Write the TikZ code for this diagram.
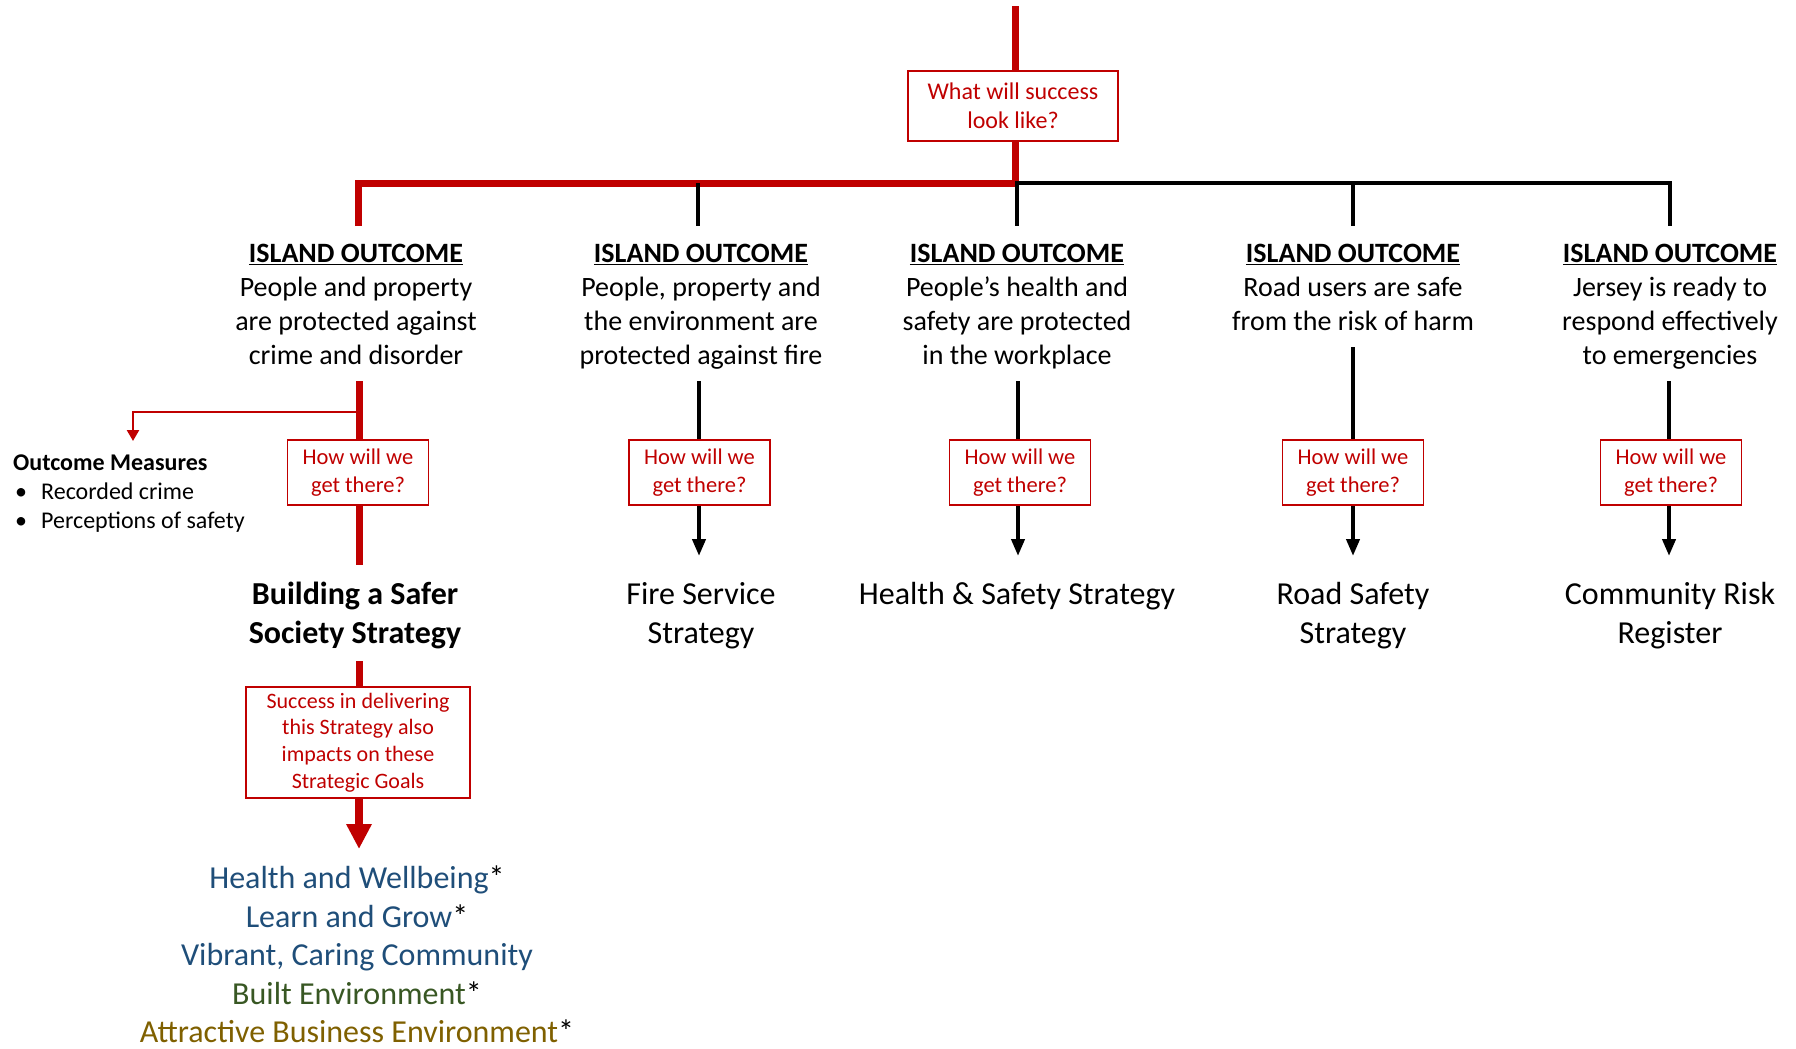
\documentclass[tikz,border=0pt]{standalone}
\usepackage{fontspec}
\setmainfont{Carlito}
\usetikzlibrary{arrows.meta}
\definecolor{dred}{HTML}{C00000}
\definecolor{gblue}{HTML}{1F4E79}
\definecolor{ggreen}{HTML}{385723}
\definecolor{ggold}{HTML}{7F6000}
\begin{document}
\begin{tikzpicture}[x=1pt,y=-1pt,
  redl/.style={draw=dred,line width=7pt},
  blkl/.style={draw=black,line width=4pt},
  qbox/.style={draw=dred,line width=1.6pt,fill=white,text=dred,align=center,inner sep=0pt,
    minimum width=141pt,minimum height=65pt,font=\fontsize{22.5}{28}\selectfont},
  outc/.style={anchor=north,align=center,inner sep=0pt,font=\fontsize{28}{34}\selectfont},
  strat/.style={anchor=north,align=center,inner sep=0pt,font=\fontsize{32}{39}\selectfont},
  blkarrow/.style={blkl,-{Triangle[length=17pt,width=13pt]}},
]
\useasboundingbox (0,0) rectangle (1796,1049);

% junction coordinates
\coordinate (top) at (1015,6);
\coordinate (jC) at (1015,183);
\coordinate (jL) at (358,183);
\coordinate (jR) at (1670,183);
\coordinate (d1) at (358,226);
\coordinate (u2) at (698,183);
\coordinate (d2) at (698,226);
\coordinate (u3) at (1017,183);
\coordinate (d3) at (1017,226);
\coordinate (u4) at (1353,183);
\coordinate (d4) at (1353,226);
\coordinate (d5) at (1670,226);

% upper tree
\draw[redl] (d1) -- (jL) -- (jC) -- (top);
\draw[blkl] (jC) -- (jR) -- (d5);
\draw[blkl] (u2) -- (d2);
\draw[blkl] (u3) -- (d3);
\draw[blkl] (u4) -- (d4);

\node[qbox,minimum width=210pt,minimum height=70pt,font=\fontsize{24}{29}\selectfont] (q0) at (1013,106) {What will success\\look like?};

% outcomes
\node[outc] (o1) at (356,244) {\textbf{\underline{ISLAND OUTCOME}}\\People and property\\are protected against\\crime and disorder};
\node[outc] (o2) at (701,244) {\textbf{\underline{ISLAND OUTCOME}}\\People, property and\\the environment are\\protected against fire};
\node[outc] (o3) at (1017,244) {\textbf{\underline{ISLAND OUTCOME}}\\People’s health and\\safety are protected\\in the workplace};
\node[outc] (o4) at (1353,244) {\textbf{\underline{ISLAND OUTCOME}}\\Road users are safe\\from the risk of harm};
\node[outc] (o5) at (1670,244) {\textbf{\underline{ISLAND OUTCOME}}\\Jersey is ready to\\respond effectively\\to emergencies};

% lower line start coordinates
\coordinate (c1) at (359,381);
\coordinate (c2) at (699,381);
\coordinate (c3) at (1018,381);
\coordinate (c4) at (1353,347);
\coordinate (c5) at (1669,381);
\coordinate (e1) at (359,565);
\coordinate (a2) at (699,556);
\coordinate (a3) at (1018,556);
\coordinate (a4) at (1353,556);
\coordinate (a5) at (1669,556);
\coordinate (br) at (359,412);
\coordinate (bl) at (133,412);
\coordinate (bt) at (133,441);

% column 1 red line and branch
\draw[redl] (c1) -- (e1);
\draw[draw=dred,line width=2.5pt,-{Triangle[length=11pt,width=12pt]}] (br) -- (bl) -- (bt);

% how boxes
\node[qbox] (h1) at (358,472.5) {How will we\\get there?};
\node[qbox] (h2) at (699.5,472.5) {How will we\\get there?};
\node[qbox] (h3) at (1020,472.5) {How will we\\get there?};
\node[qbox] (h4) at (1353,472.5) {How will we\\get there?};
\node[qbox] (h5) at (1671,472.5) {How will we\\get there?};

\draw[blkl] (c2) -- (c2 |- h2.north);
\draw[blkl] (c3) -- (c3 |- h3.north);
\draw[blkl] (c4) -- (c4 |- h4.north);
\draw[blkl] (c5) -- (c5 |- h5.north);
\draw[blkarrow] (c2 |- h2.south) -- (a2);
\draw[blkarrow] (c3 |- h3.south) -- (a3);
\draw[blkarrow] (c4 |- h4.south) -- (a4);
\draw[blkarrow] (c5 |- h5.south) -- (a5);

% strategies
\node[strat] (s1) at (355,582) {\textbf{Building a Safer}\\\textbf{Society Strategy}};
\node[strat] (s2) at (701,582) {Fire Service\\Strategy};
\node[strat] (s3) at (1017,582) {Health \& Safety Strategy};
\node[strat] (s4) at (1353,582) {Road Safety\\Strategy};
\node[strat] (s5) at (1670,582) {Community Risk\\Register};

% outcome measures
\node[anchor=north west,align=left,inner sep=0pt,font=\fontsize{24}{29}\selectfont] (m) at (13,455)
  {\textbf{Outcome Measures}\\\hspace*{2pt}\makebox[26pt][l]{\textbullet}Recorded crime\\\hspace*{2pt}\makebox[26pt][l]{\textbullet}Perceptions of safety};

% success box
\coordinate (f1) at (359,661);
\node[qbox,minimum width=224pt,minimum height=111pt,font=\fontsize{22}{26.7}\selectfont] (q6) at (358,742.5)
  {Success in delivering\\this Strategy also\\impacts on these\\Strategic Goals};
\draw[redl] (f1) -- (q6.north -| f1);
\coordinate (g1) at (359,849);
\draw[draw=dred,line width=8pt,-{Triangle[length=25pt,width=24pt]}] (q6.south -| g1) -- (g1);

% goals
\node[anchor=north,align=center,inner sep=0pt,font=\fontsize{32}{38.5}\selectfont] (goals) at (357,866)
  {{\color{gblue}Health and Wellbeing}*\\{\color{gblue}Learn and Grow}*\\{\color{gblue}Vibrant, Caring Community}\\{\color{ggreen}Built Environment}*\\{\color{ggold}Attractive Business Environment}*};
\end{tikzpicture}
\end{document}
